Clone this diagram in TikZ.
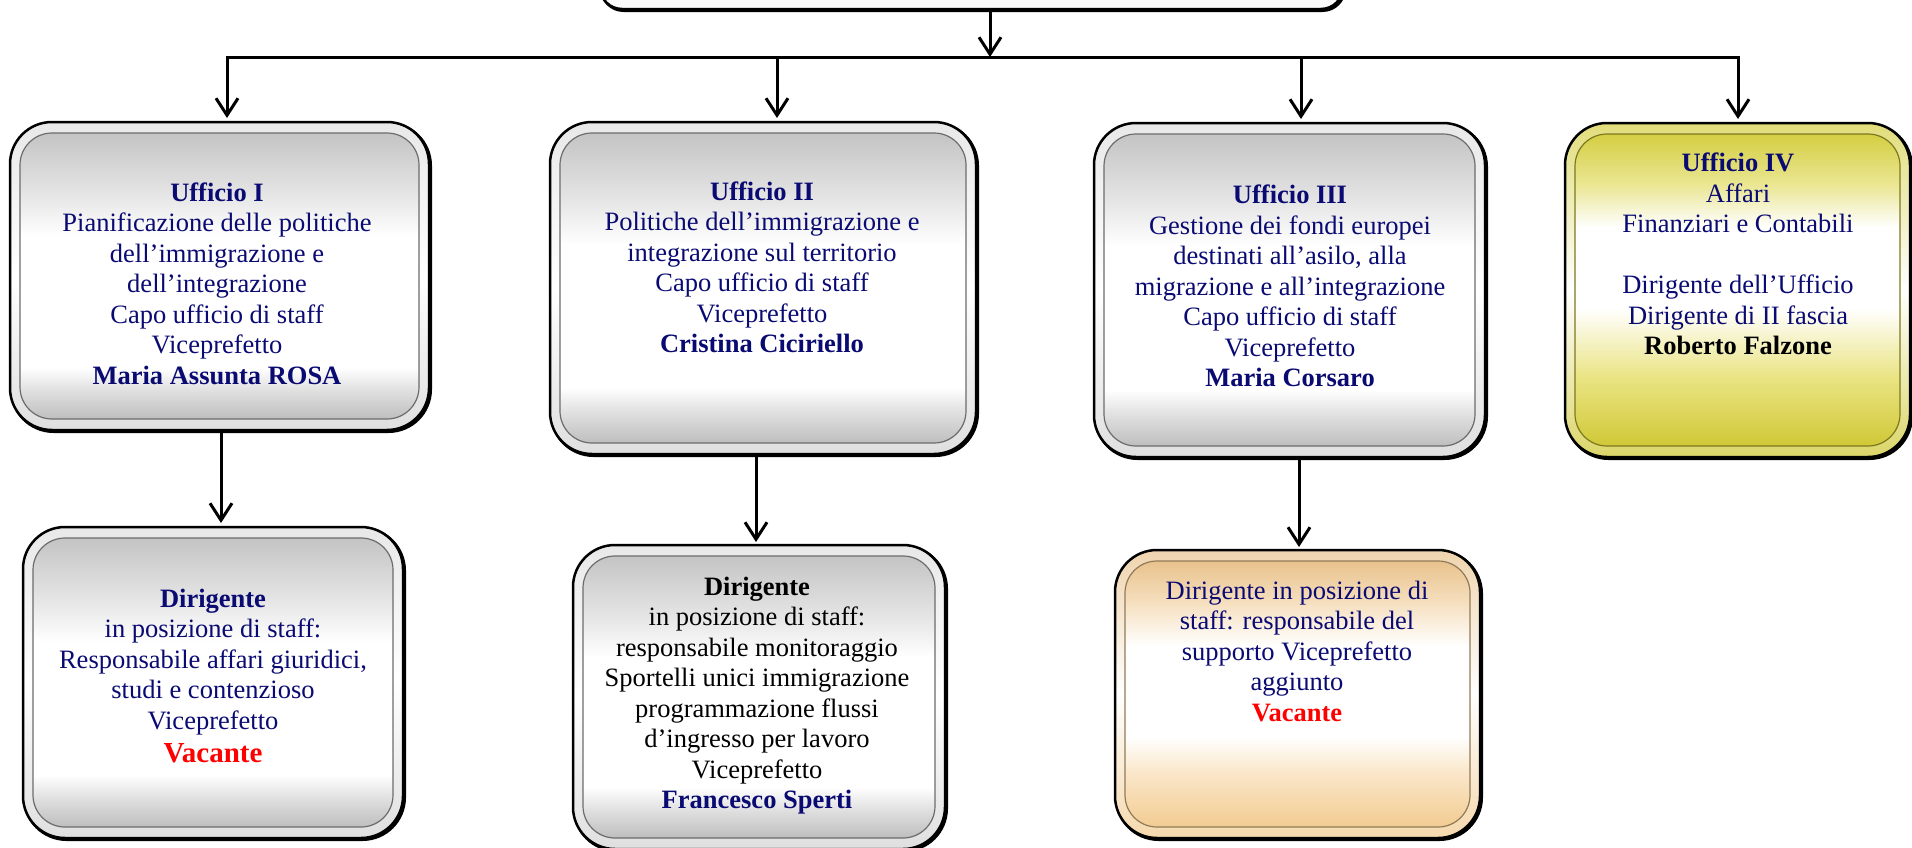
\documentclass[tikz,border=0pt]{standalone}
\usepackage{fontspec}
\setmainfont{Liberation Serif}
\usetikzlibrary{arrows.meta,calc}
\definecolor{navy}{RGB}{10,10,115}
\definecolor{vred}{RGB}{255,0,0}
\definecolor{gtop}{RGB}{196,196,196}
\definecolor{gtop2}{RGB}{230,230,230}
\definecolor{gbot}{RGB}{190,190,190}
\definecolor{gbot2}{RGB}{224,224,224}
\definecolor{ytop}{RGB}{212,206,66}
\definecolor{ytop2}{RGB}{234,230,146}
\definecolor{ybot}{RGB}{208,200,54}
\definecolor{ybot2}{RGB}{234,228,132}
\definecolor{otop}{RGB}{232,194,140}
\definecolor{otop2}{RGB}{246,224,192}
\definecolor{obot}{RGB}{242,204,146}
\definecolor{obot2}{RGB}{250,230,200}
\pgfdeclareverticalshading{grayfill}{100bp}{color(0bp)=(gbot); color(25bp)=(gbot); color(30bp)=(gbot2); color(34bp)=(white); color(57bp)=(white); color(64bp)=(gtop2); color(75bp)=(gtop); color(100bp)=(gtop)}
\pgfdeclareverticalshading{yellowfill}{100bp}{color(0bp)=(ybot); color(25bp)=(ybot); color(36bp)=(ybot2); color(47bp)=(white); color(60bp)=(white); color(67bp)=(ytop2); color(75bp)=(ytop); color(100bp)=(ytop)}
\pgfdeclareverticalshading{orangefill}{100bp}{color(0bp)=(obot); color(25bp)=(obot); color(35bp)=(obot2); color(42bp)=(white); color(59bp)=(white); color(67bp)=(otop2); color(75bp)=(otop); color(100bp)=(otop)}
\begin{document}
\begin{tikzpicture}[x=1pt,y=1pt,
  outerbox/.style={rectangle, rounded corners=42pt, draw=black, line width=2.5pt, inner sep=0pt, outer sep=0pt,
    preaction={draw=black, line width=3pt, transform canvas={shift={(1.5pt,-1.5pt)}}}},
  bandgray/.style={top color=gray!18, bottom color=gray!25, middle color=white},
  bandyellow/.style={top color=ytop!70, bottom color=ybot!75, middle color=white},
  bandorange/.style={top color=otop!70, bottom color=obot!75, middle color=white},
  innerring/.style={draw=gray!85!black, line width=1.2pt, rounded corners=32pt},
  txt/.style={align=center, inner sep=0pt, font=\fontsize{26.5}{30.5}\selectfont, text=navy},
  conn/.style={line width=3pt, draw=black},
  arr/.style={line width=3pt, draw=black, -{Straight Barb[length=17pt,width=22pt]}}
]
\useasboundingbox (0,0) rectangle (1912,-847);
\clip (0,0) rectangle (1912,-847);

% top box (mostly outside picture)
\node[outerbox, rounded corners=22pt, fill=white!96!gray, minimum width=743pt, minimum height=79pt] (topbox) at (971.5,30.5) {};

% level 1 boxes
\node[outerbox, bandgray, minimum width=419pt, minimum height=308pt] (u1) at (219.5,-276) {};
\shadedraw[shading=grayfill, innerring] ($(u1.north west)+(10,-11)$) rectangle ($(u1.south east)+(-10,11)$);
\node[outerbox, bandgray, minimum width=426pt, minimum height=332pt] (u2) at (763,-288) {};
\shadedraw[shading=grayfill, innerring] ($(u2.north west)+(10,-11)$) rectangle ($(u2.south east)+(-10,11)$);
\node[outerbox, bandgray, minimum width=391pt, minimum height=334pt] (u3) at (1289.5,-290) {};
\shadedraw[shading=grayfill, innerring] ($(u3.north west)+(10,-11)$) rectangle ($(u3.south east)+(-10,11)$);
\node[outerbox, bandyellow, minimum width=345pt, minimum height=334pt] (u4) at (1737.5,-290) {};
\shadedraw[shading=yellowfill, innerring, draw=ybot!60!black] ($(u4.north west)+(10,-11)$) rectangle ($(u4.south east)+(-10,11)$);

% level 2 boxes
\node[outerbox, bandgray, minimum width=380pt, minimum height=311pt] (d1) at (213,-682.5) {};
\shadedraw[shading=grayfill, innerring] ($(d1.north west)+(10,-11)$) rectangle ($(d1.south east)+(-10,11)$);
\node[outerbox, bandgray, minimum width=372pt, minimum height=304pt] (d2) at (759,-697) {};
\shadedraw[shading=grayfill, innerring] ($(d2.north west)+(10,-11)$) rectangle ($(d2.south east)+(-10,11)$);
\node[outerbox, bandorange, minimum width=365pt, minimum height=288pt] (d3) at (1297.5,-694) {};
\shadedraw[shading=orangefill, innerring, draw=obot!60!black] ($(d3.north west)+(10,-11)$) rectangle ($(d3.south east)+(-10,11)$);

% texts
\node[txt] (t1) at (217,-283.5) {\textbf{Ufficio I}\\Pianificazione delle politiche\\dell’immigrazione e\\dell’integrazione\\Capo ufficio di staff\\Viceprefetto\\\textbf{Maria Assunta ROSA}};
\node[txt] (t2) at (762,-267.5) {\textbf{Ufficio II}\\Politiche dell’immigrazione e\\integrazione sul territorio\\Capo ufficio di staff\\Viceprefetto\\\textbf{Cristina Ciciriello}};
\node[txt] (t3) at (1290,-286) {\textbf{Ufficio III}\\Gestione dei fondi europei\\destinati all’asilo, alla\\migrazione e all’integrazione\\Capo ufficio di staff\\Viceprefetto\\\textbf{Maria Corsaro}};
\node[txt] (t4) at (1738,-254) {\textbf{Ufficio IV}\\Affari\\Finanziari e Contabili\\\mbox{}\\Dirigente dell’Ufficio\\Dirigente di II fascia\\\textcolor{black}{\textbf{Roberto Falzone}}};
\node[txt] (t5) at (213,-676) {\textbf{Dirigente}\\in posizione di staff:\\Responsabile affari giuridici,\\studi e contenzioso\\Viceprefetto\\[2.5pt]{\fontsize{29}{33}\selectfont\textcolor{vred}{\textbf{Vacante}}}};
\node[txt, text=black] (t6) at (757,-695.5) {\textbf{Dirigente}\\in posizione di staff:\\responsabile monitoraggio\\Sportelli unici immigrazione\\programmazione flussi\\d’ingresso per lavoro\\Viceprefetto\\\textcolor{navy}{\textbf{Francesco Sperti}}};
\node[txt] (t7) at (1297,-651) {Dirigente in posizione di\\staff: responsabile del\\supporto Viceprefetto\\aggiunto\\\textcolor{vred}{\textbf{Vacante}}};

% connectors
\coordinate (b1) at (227,-57);
\coordinate (b2) at (777,-57);
\coordinate (b3) at (1301,-57);
\coordinate (b4) at (1738,-57);
\draw[conn, line cap=rect] (b1) -- (b4);
\draw[arr] ([xshift=18.5pt]topbox.south) -- ([xshift=18.5pt]topbox.south |- b1);
\draw[arr, shorten >=4pt] (b1) -- (b1 |- u1.north);
\draw[arr, shorten >=4pt] (b2) -- (b2 |- u2.north);
\draw[arr, shorten >=4pt] (b3) -- (b3 |- u3.north);
\draw[arr, shorten >=4pt] (b4) -- (b4 |- u4.north);
\draw[arr, shorten >=4pt] ([xshift=1.5pt]u1.south) -- ([xshift=1.5pt]u1.south |- d1.north);
\draw[arr, shorten >=3pt] ([xshift=-7pt]u2.south) -- ([xshift=-7pt]u2.south |- d2.north);
\draw[arr, shorten >=3pt] ([xshift=9.5pt]u3.south) -- ([xshift=9.5pt]u3.south |- d3.north);
\end{tikzpicture}
\end{document}
